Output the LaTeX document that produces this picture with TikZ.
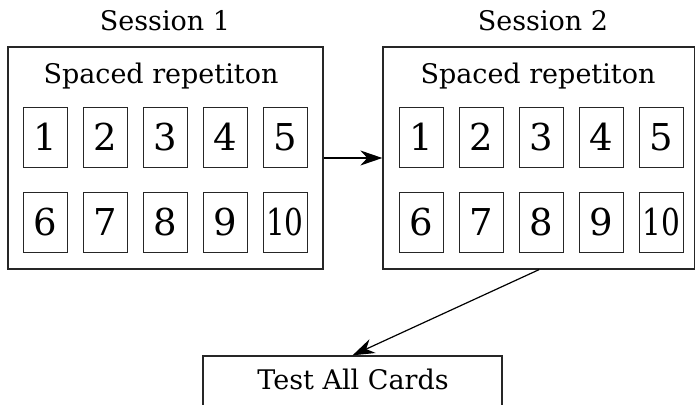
\documentclass[tikz,border=0pt]{standalone}
\usepackage{fontspec}
\usepackage{graphicx}
\setmainfont{DejaVu Serif}
\usetikzlibrary{arrows.meta}
\newcommand{\narrow}[1]{\scalebox{0.8}[1]{#1}}
\tikzset{
  panel/.style={draw=black!85, line width=1.3pt, minimum width=#1, minimum height=222pt, inner sep=0pt},
  card/.style={draw=black!85, line width=1pt, minimum width=44pt, minimum height=60pt, inner sep=0pt, font=\fontsize{37}{37}\selectfont},
  caption/.style={anchor=base, font=\fontsize{27}{27}\selectfont, inner sep=0pt},
  flow/.style={line width=1.2pt, -{Stealth[length=22pt, width=15pt, inset=7pt]}},
}
\begin{document}
\begin{tikzpicture}[x=1pt, y=-1pt]
\useasboundingbox (0,0) rectangle (695,404);
\clip (0,0) rectangle (695,404);
\fill[white] (0,0) rectangle (695,404);

% session labels
\node[caption] (s1) at (165,31) {Session 1};
\node[caption] (s2) at (543,31) {Session 2};

% session panels
\node[panel=315pt] (box1) at (165.5,158) {};
\node[panel=312pt] (box2) at (539,158) {};
\node[caption] (sr1) at (161,83) {Spaced repetiton};
\node[caption] (sr2) at (538,83) {Spaced repetiton};

% cards of session 1
\foreach \n/\x in {1/45,2/105,3/165,4/225,5/285}
  \node[card] (a\n) at (\x,137) {\n};
\foreach \n/\x in {6/45,7/105,8/165,9/225}
  \node[card] (a\n) at (\x,222.5) {\n};
\node[card] (a10) at (285,222.5) {\narrow{10}};

% cards of session 2
\foreach \n/\x in {1/421,2/481,3/541,4/601,5/661}
  \node[card] (b\n) at (\x,137) {\n};
\foreach \n/\x in {6/421,7/481,8/541,9/601}
  \node[card] (b\n) at (\x,222.5) {\n};
\node[card] (b10) at (661,222.5) {\narrow{10}};

% final test
\node[draw=black!85, line width=1.3pt, minimum width=299pt, minimum height=80pt, inner sep=0pt] (test) at (352.5,396) {};
\node[caption] (testlbl) at (353,389) {Test All Cards};

% connectors
\draw[flow] (box1.east) -- (box2.west);
\draw[flow] (box2.south) -- (test.north);
\end{tikzpicture}
\end{document}
